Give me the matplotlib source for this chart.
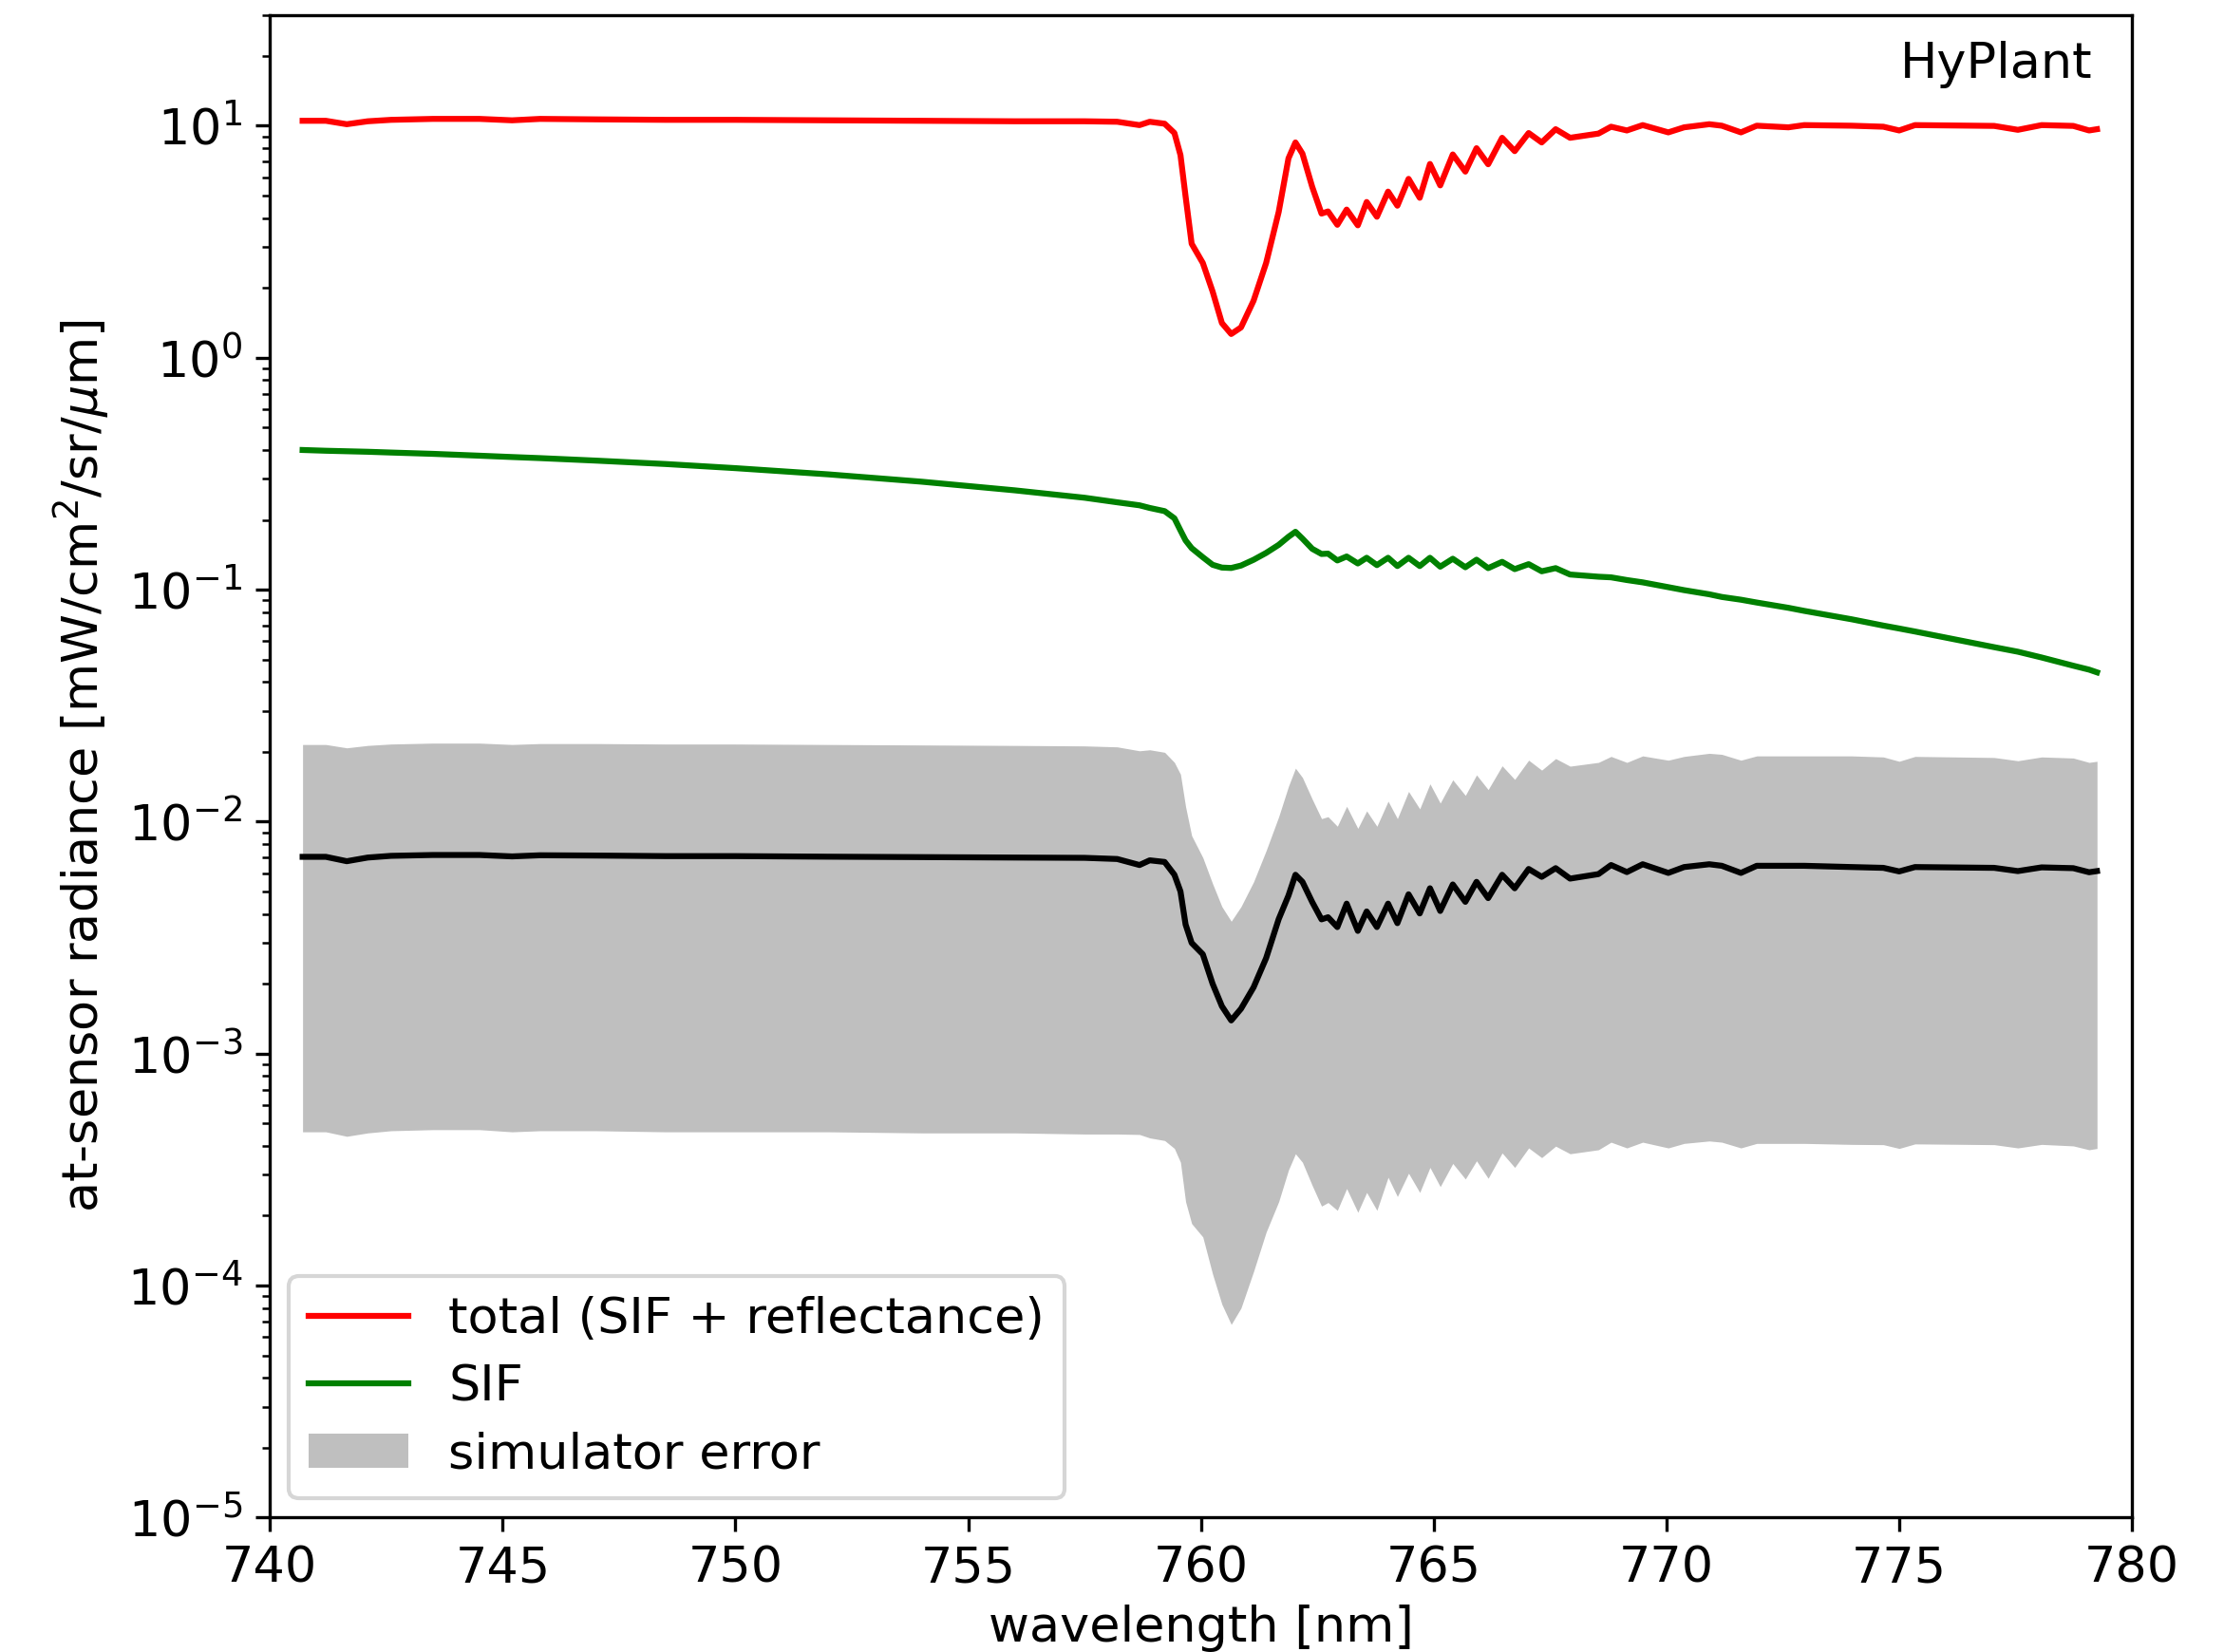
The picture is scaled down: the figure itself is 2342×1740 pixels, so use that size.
import matplotlib
matplotlib.use("Agg")
import matplotlib.pyplot as plt

# wavelength grid [nm]
wavelength = [740.70, 741.20, 741.65, 742.10, 742.60, 743.50, 744.50, 745.20, 745.80, 747.00,
              748.50, 750.00, 752.00, 754.00, 756.00, 757.50, 758.20, 758.68, 758.90, 759.22,
              759.43, 759.56, 759.67, 759.80, 760.04, 760.25, 760.45, 760.65, 760.86, 761.13,
              761.40, 761.67, 761.88, 762.03, 762.18, 762.39, 762.59, 762.73, 762.93, 763.13,
              763.37, 763.56, 763.78, 764.02, 764.22, 764.46, 764.70, 764.92, 765.14, 765.41,
              765.68, 765.92, 766.17, 766.47, 766.74, 767.04, 767.32, 767.62, 767.93, 768.54,
              768.81, 769.15, 769.49, 770.04, 770.38, 770.92, 771.19, 771.60, 771.94, 772.62,
              772.96, 773.98, 774.66, 775.00, 775.34, 777.04, 777.55, 778.06, 778.74, 779.08,
              779.25]

total = [10.5, 10.5, 10.15, 10.45, 10.6, 10.7, 10.7, 10.55, 10.7, 10.65,
         10.6, 10.6, 10.55, 10.5, 10.45, 10.45, 10.4, 10.06, 10.4, 10.2,
         9.3, 7.47, 4.95, 3.1, 2.56, 1.93, 1.41, 1.265, 1.35, 1.76,
         2.56, 4.25, 7.23, 8.47, 7.58, 5.45, 4.18, 4.27, 3.74, 4.35,
         3.72, 4.69, 4.05, 5.2, 4.52, 5.9, 4.89, 6.84, 5.53, 7.52,
         6.34, 8.0, 6.82, 8.87, 7.77, 9.3, 8.47, 9.66, 8.87, 9.25,
         9.9, 9.54, 10.06, 9.36, 9.84, 10.15, 10.0, 9.36, 10.0, 9.84,
         10.06, 10.0, 9.9, 9.54, 10.06, 9.98, 9.6, 10.06, 9.98, 9.54,
         9.66]

sif = [0.400, 0.397, 0.395, 0.393, 0.390, 0.385, 0.378, 0.373, 0.369, 0.360,
       0.348, 0.334, 0.314, 0.292, 0.268, 0.249, 0.238, 0.231, 0.225, 0.218,
       0.203, 0.180, 0.163, 0.151, 0.138, 0.128, 0.1245, 0.124, 0.127, 0.1345,
       0.144, 0.156, 0.169, 0.1776, 0.166, 0.150, 0.1425, 0.143, 0.1336, 0.139,
       0.1297, 0.1372, 0.1276, 0.1372, 0.1264, 0.1372, 0.1264, 0.1372, 0.1256, 0.1359,
       0.1249, 0.1346, 0.1238, 0.1318, 0.1226, 0.1288, 0.1200, 0.1238, 0.1162, 0.1137,
       0.113, 0.110, 0.1075, 0.1025, 0.0995, 0.0955, 0.093, 0.0905, 0.088, 0.0835,
       0.081, 0.0745, 0.070, 0.068, 0.066, 0.0565, 0.054, 0.051, 0.047, 0.0452,
       0.0440]

sim_mean = [0.00705, 0.00705, 0.00675, 0.00700, 0.00712, 0.00718, 0.00718, 0.00708, 0.00716, 0.00714,
            0.00710, 0.00710, 0.00706, 0.00703, 0.00700, 0.00698, 0.00690, 0.00650, 0.00681, 0.00670,
            0.00590, 0.00500, 0.00360, 0.00300, 0.00268, 0.00200, 0.00160, 0.00139, 0.00156, 0.00193,
            0.00258, 0.00380, 0.00480, 0.00590, 0.00550, 0.00450, 0.00379, 0.00387, 0.00351, 0.00443,
            0.00338, 0.00410, 0.00351, 0.00443, 0.00365, 0.00486, 0.00402, 0.00516, 0.00412, 0.00536,
            0.00451, 0.00550, 0.00468, 0.00590, 0.00516, 0.00625, 0.00578, 0.00630, 0.00568, 0.00594,
            0.00650, 0.00606, 0.00655, 0.00601, 0.00637, 0.00655, 0.00645, 0.00601, 0.00645, 0.00645,
            0.00645, 0.00637, 0.00632, 0.00610, 0.00637, 0.00632, 0.00612, 0.00635, 0.00630, 0.00605,
            0.00612]

err_upper = [0.0215, 0.0215, 0.0208, 0.0213, 0.0216, 0.0218, 0.0218, 0.0215, 0.0217, 0.0217,
             0.0216, 0.0216, 0.0215, 0.0214, 0.0213, 0.0212, 0.0210, 0.0202, 0.0204, 0.0199,
             0.0180, 0.0160, 0.0116, 0.0087, 0.0070, 0.0054, 0.0043, 0.00372, 0.0043, 0.0055,
             0.0075, 0.0105, 0.0142, 0.0170, 0.0155, 0.0125, 0.0103, 0.0105, 0.00955, 0.01164,
             0.00935, 0.01112, 0.00955, 0.01225, 0.0103, 0.01349, 0.01135, 0.01455, 0.01202, 0.01514,
             0.01297, 0.0159, 0.01374, 0.0174, 0.0152, 0.0184, 0.01667, 0.0187, 0.01734, 0.0180,
             0.0191, 0.0180, 0.0192, 0.0184, 0.0191, 0.0197, 0.0195, 0.0184, 0.0192, 0.0192,
             0.0192, 0.0192, 0.0190, 0.0182, 0.0191, 0.0189, 0.0183, 0.0190, 0.0188, 0.0180,
             0.0182]

err_lower = [4.6e-4, 4.6e-4, 4.4e-4, 4.55e-4, 4.65e-4, 4.7e-4, 4.7e-4, 4.6e-4, 4.65e-4, 4.65e-4,
             4.6e-4, 4.6e-4, 4.6e-4, 4.55e-4, 4.55e-4, 4.5e-4, 4.5e-4, 4.48e-4, 4.33e-4, 4.22e-4,
             3.9e-4, 3.4e-4, 2.3e-4, 1.85e-4, 1.62e-4, 1.12e-4, 8.3e-5, 6.8e-5, 8.0e-5, 1.15e-4,
             1.7e-4, 2.3e-4, 3.15e-4, 3.7e-4, 3.4e-4, 2.7e-4, 2.2e-4, 2.28e-4, 2.11e-4, 2.62e-4,
             2.07e-4, 2.52e-4, 2.11e-4, 2.93e-4, 2.42e-4, 3.05e-4, 2.52e-4, 3.23e-4, 2.67e-4, 3.36e-4,
             2.88e-4, 3.45e-4, 2.9e-4, 3.73e-4, 3.23e-4, 3.92e-4, 3.56e-4, 3.99e-4, 3.7e-4, 3.85e-4,
             4.15e-4, 3.92e-4, 4.15e-4, 3.92e-4, 4.1e-4, 4.2e-4, 4.15e-4, 3.92e-4, 4.1e-4, 4.1e-4,
             4.1e-4, 4.06e-4, 4.05e-4, 3.9e-4, 4.08e-4, 4.05e-4, 3.92e-4, 4.06e-4, 4.0e-4, 3.85e-4,
             3.9e-4]

x_ticks = [740, 745, 750, 755, 760, 765, 770, 775, 780]

plt.rcParams['font.size'] = 12.6

fig = plt.figure(figsize=(2342 / 300, 1740 / 300), dpi=300)
ax = fig.add_axes([0.1214, 0.0814, 0.8372, 0.9095])

ax.fill_between(wavelength, err_lower, err_upper, color='gray', alpha=0.5,
                linewidth=0, label='simulator error')
ax.plot(wavelength, total, color='red', lw=1.5, label='total (SIF + reflectance)')
ax.plot(wavelength, sif, color='green', lw=1.5, label='SIF')
ax.plot(wavelength, sim_mean, color='black', lw=1.5)

ax.set_yscale('log')
ax.set_xlim(740, 780)
ax.set_ylim(1e-5, 30)
ax.set_xticks(x_ticks)
ax.set_xlabel('wavelength [nm]', labelpad=3)
ax.set_ylabel(r'at-sensor radiance [mW/cm$^2$/sr/$\mu$m]')

ax.text(0.9787, 0.983, 'HyPlant', transform=ax.transAxes, ha='right', va='top')

handles, labels = ax.get_legend_handles_labels()
order = [labels.index('total (SIF + reflectance)'), labels.index('SIF'),
         labels.index('simulator error')]
ax.legend([handles[i] for i in order], [labels[i] for i in order], loc='lower left',
          labelspacing=0.4, borderaxespad=0.38)

fig.savefig('out.png', dpi=300)
